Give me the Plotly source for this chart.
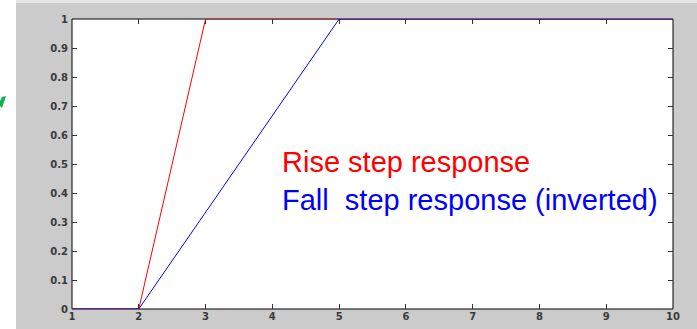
import plotly.graph_objects as go

# Data
t_rise = [1, 2, 3, 10]
rise = [0, 0, 1, 1]
t_fall = [1, 2, 5, 10]
fall = [0, 0, 1, 1]

x_ticks = [1, 2, 3, 4, 5, 6, 7, 8, 9, 10]
x_ticktext = ["1", "2", "3", "4", "5", "6", "7", "8", "9", "10"]
y_ticks = [0, 0.1, 0.2, 0.3, 0.4, 0.5, 0.6, 0.7, 0.8, 0.9, 1]
y_ticktext = ["0", "0.1", "0.2", "0.3", "0.4", "0.5", "0.6", "0.7", "0.8", "0.9", "1"]

label_rise = "Rise step response"
label_fall = "Fall\u00a0 step response (inverted)"

W, H = 697, 329
L, R, T, B = 72, 24, 19, 20
pw, ph = W - L - R, H - T - B

def px_x(p):
    return (p - L) / pw

def px_y(p):
    return (H - B - p) / ph

fig = go.Figure()
fig.add_trace(go.Scatter(x=t_rise, y=rise, mode="lines", cliponaxis=False,
                         line=dict(color="#ff0000", width=1), showlegend=False))
fig.add_trace(go.Scatter(x=t_fall, y=fall, mode="lines", cliponaxis=False,
                         line=dict(color="#0000ff", width=1), showlegend=False))

axis_common = dict(showgrid=False, zeroline=False, showline=False, automargin=False,
                   ticks="inside", ticklen=5, tickcolor="#333333",
                   mirror="ticks", layer="below traces",
                   tickfont=dict(family="DejaVu Sans", size=10, color="#3a3a3a", weight="bold"))

fig.update_xaxes(range=[1, 10], tickvals=x_ticks, ticktext=x_ticktext, **axis_common)
fig.update_yaxes(range=[0, 1], tickvals=y_ticks, ticktext=y_ticktext,
                 ticklabelstandoff=3, **axis_common)

fig.add_annotation(x=px_x(280), y=px_y(162), xref="paper", yref="paper",
                   text=label_rise, showarrow=False, xanchor="left", yanchor="middle",
                   font=dict(family="Liberation Sans", size=29, color="#ff0000"))
fig.add_annotation(x=px_x(280), y=px_y(200), xref="paper", yref="paper",
                   text=label_fall, showarrow=False, xanchor="left", yanchor="middle",
                   font=dict(family="Liberation Sans", size=29, color="#0000ff"))

shapes = [
    # white strip on the left
    dict(type="rect", xref="paper", yref="paper", x0=px_x(0), x1=px_x(16),
         y0=px_y(H), y1=px_y(0), fillcolor="#ffffff", line=dict(width=0), layer="below"),
    # lighter strip at top
    dict(type="rect", xref="paper", yref="paper", x0=px_x(16), x1=px_x(W),
         y0=px_y(3), y1=px_y(0), fillcolor="#e6e6e6", line=dict(width=0), layer="below"),
    # green mark
    dict(type="path", xref="paper", yref="paper",
         path=(f"M {px_x(0)},{px_y(101)} L {px_x(2)},{px_y(97)} L {px_x(6)},{px_y(96)} "
               f"L {px_x(2)},{px_y(108)} L {px_x(0)},{px_y(106)} Z"),
         fillcolor="#10b050", line=dict(width=0), layer="below"),
    # axes box, below the traces
    dict(type="rect", xref="x domain", yref="y domain", x0=0, x1=1, y0=0, y1=1,
         line=dict(color="#000000", width=1), fillcolor="rgba(0,0,0,0)", layer="below"),
]

fig.update_layout(width=W, height=H, autosize=False, margin=dict(l=L, r=R, t=T, b=B),
                  paper_bgcolor="#cbcbcb", plot_bgcolor="#ffffff", shapes=shapes)

post = (
    "document.documentElement.style.margin='0';"
    "document.body.style.margin='0';document.body.style.padding='0';"
    "document.body.style.overflow='hidden';"
    "var gd=document.getElementById('{plot_id}');"
    "Plotly.relayout(gd,{width:%d,height:%d});" % (W, H)
)

fig.write_html("out.html", config={"displayModeBar": False, "responsive": False},
               post_script=post)
